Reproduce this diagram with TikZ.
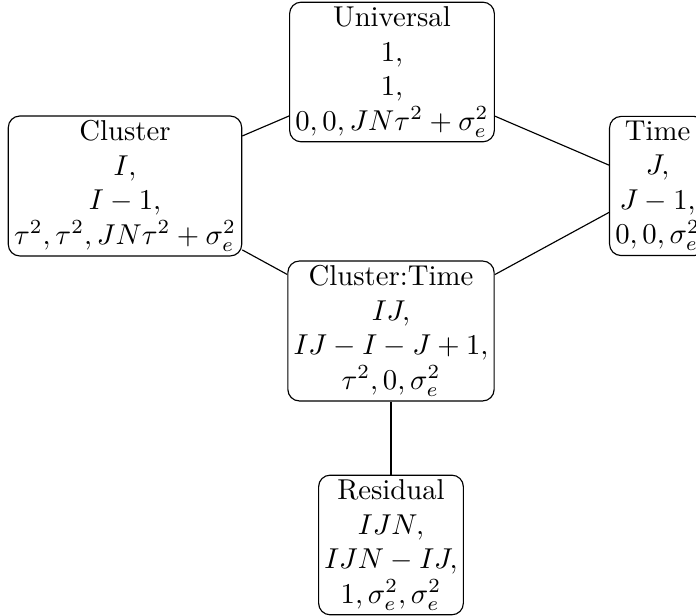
\documentclass[tikz,border=0pt]{standalone}
\usepackage{amsmath}
\usepackage{amssymb}

\begin{document}
\begin{tikzpicture}[x=0.01224cm,y=-0.01224cm,
  term/.style={draw,rounded corners,align=center,inner xsep=2pt,inner ysep=1.6pt}]
\useasboundingbox (0,0) rectangle (696,616);
\node[term] (u) at (392, 72) {Universal\\$1,$\\$1,$\\$0, 0, JN\tau^2 + \sigma_e^2$};
\node[term] (c) at (125, 186) {Cluster\\$I,$\\$I-1,$\\$\tau^2, \tau^2, JN\tau^2 + \sigma_e^2$};
\node[term,anchor=west] (t) at (609, 186) {Time\\$J,$\\$J-1,$\\$0, 0, \sigma_e^2$};
\node[term] (ct) at (391, 331) {Cluster:Time\\$IJ,$\\$IJ-I-J+1,$\\$\tau^2, 0, \sigma_e^2$};
\node[term] (r) at (391, 545) {Residual\\$IJN,$\\$IJN-IJ,$\\$1, \sigma_e^2, \sigma_e^2$};

\draw (u) -- (c);
\draw (u) -- (t);
\draw (c) -- (ct);
\draw (t) -- (ct);
\draw (ct) -- (r);
\end{tikzpicture}
\end{document}
